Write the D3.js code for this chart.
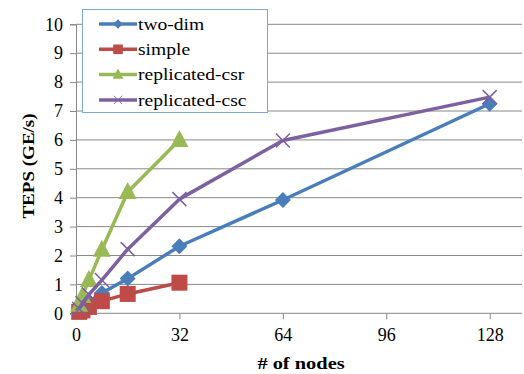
<!DOCTYPE html>
<html>
<head>
<meta charset="utf-8">
<script src="https://cdn.jsdelivr.net/npm/d3@7"></script>
<style>
  body { margin: 0; background: #fff; }
</style>
</head>
<body>
<div id="chart"></div>
<script>
// data
var nodes = [1, 2, 4, 8, 16, 32, 64, 128];
var twoDim = [0.1, 0.2, 0.4, 0.7, 1.2, 2.32, 3.92, 7.25];
var simple = [0.05, 0.1, 0.22, 0.42, 0.67, 1.06];
var replicatedCsr = [0.3, 0.6, 1.15, 2.2, 4.2, 6.0];
var replicatedCsc = [0.15, 0.35, 0.65, 1.15, 2.22, 3.95, 5.98, 7.48];
var xTicks = [0, 32, 64, 96, 128];
var yTicks = [0, 1, 2, 3, 4, 5, 6, 7, 8, 9, 10];

var series = [
  { name: 'two-dim', values: twoDim, color: '#4a7ebb', marker: 'diamond' },
  { name: 'simple', values: simple, color: '#be4b48', marker: 'square' },
  { name: 'replicated-csr', values: replicatedCsr, color: '#98b954', marker: 'triangle' },
  { name: 'replicated-csc', values: replicatedCsc, color: '#7d60a0', marker: 'cross' }
];

var W = 524, H = 374;
var plotLeft = 76, plotRight = 522, plotTop = 24.3, plotBottom = 313.3;
var serif = '"Liberation Serif"';

var svg = d3.select('#chart').append('svg')
  .attr('width', W)
  .attr('height', H);

var x = d3.scaleLinear().domain([0, 128]).range([plotLeft, 489.7]);
var y = d3.scaleLinear().domain([0, 10]).range([plotBottom, plotTop]);

// gridlines
svg.append('g')
  .selectAll('line')
  .data(yTicks.slice(1))
  .enter().append('line')
  .attr('x1', plotLeft).attr('x2', plotRight)
  .attr('y1', d => y(d)).attr('y2', d => y(d))
  .attr('stroke', '#888').attr('stroke-width', 1);

// y axis
var yAxis = svg.append('g')
  .attr('transform', 'translate(' + plotLeft + ',0)')
  .call(d3.axisLeft(y).tickValues(yTicks).tickSize(6).tickPadding(7));
yAxis.select('.domain').attr('stroke', '#888');
yAxis.selectAll('.tick line').attr('stroke', '#888');
yAxis.selectAll('.tick text')
  .style('font-family', serif).style('font-size', '18px').attr('fill', '#000');

// x axis
var xAxis = svg.append('g')
  .attr('transform', 'translate(0,' + plotBottom + ')')
  .call(d3.axisBottom(x).tickValues(xTicks).tickSize(6).tickPadding(9));
xAxis.select('.domain').attr('d', 'M' + plotLeft + ',0H' + plotRight).attr('stroke', '#888');
xAxis.selectAll('.tick line').attr('stroke', '#888');
xAxis.selectAll('.tick text')
  .style('font-family', serif).style('font-size', '18px').attr('fill', '#000');

// axis titles
svg.append('text')
  .attr('transform', 'translate(301,369) scale(1.2,1)')
  .attr('text-anchor', 'middle')
  .style('font-family', serif).style('font-size', '17px').style('font-weight', 'bold')
  .text('# of nodes');

svg.append('text')
  .attr('transform', 'translate(34,166) rotate(-90) scale(1.12,1)')
  .attr('text-anchor', 'middle')
  .style('font-family', serif).style('font-size', '17px').style('font-weight', 'bold')
  .text('TEPS (GE/s)');

function drawMarker(g, type, color) {
  if (type === 'diamond') {
    g.append('path').attr('d', 'M0,-8L8,0L0,8L-8,0Z').attr('fill', color);
  } else if (type === 'square') {
    g.append('rect').attr('x', -8).attr('y', -8).attr('width', 16).attr('height', 16)
      .attr('fill', color);
  } else if (type === 'triangle') {
    g.append('path').attr('d', 'M0,-10L9,7L-9,7Z').attr('fill', color);
  } else {
    g.append('path').attr('d', 'M-7,-7L7,7M-7,7L7,-7')
      .attr('stroke', color).attr('stroke-width', 1.5).attr('fill', 'none');
  }
}

var line = d3.line()
  .x((d, i) => x(nodes[i]))
  .y(d => y(d));

var seriesG = svg.selectAll('.series')
  .data(series)
  .enter().append('g').attr('class', 'series');

seriesG.append('path')
  .attr('d', d => line(d.values))
  .attr('fill', 'none')
  .attr('stroke', d => d.color)
  .attr('stroke-width', 3.5)
  .attr('stroke-linejoin', 'round');

seriesG.each(function(s) {
  var g = d3.select(this);
  s.values.forEach(function(v, i) {
    var m = g.append('g').attr('transform', 'translate(' + x(nodes[i]) + ',' + y(v) + ')');
    drawMarker(m, s.marker, s.color);
  });
});

// legend
var legend = svg.append('g');
legend.append('rect')
  .attr('x', 82.5).attr('y', 9.5).attr('width', 185).attr('height', 103)
  .attr('fill', '#fff').attr('stroke', '#7ea6d8').attr('stroke-width', 1);

series.forEach(function(s, i) {
  var ly = 24 + i * 25.3;
  var item = legend.append('g').attr('transform', 'translate(0,' + ly + ')');
  item.append('line')
    .attr('x1', 99).attr('x2', 137).attr('y1', 0).attr('y2', 0)
    .attr('stroke', s.color).attr('stroke-width', 3.5);
  var m = item.append('g').attr('transform', 'translate(118,0) scale(0.6)');
  drawMarker(m, s.marker, s.color);
  item.append('text')
    .attr('transform', 'translate(138,0) scale(1.15,1)')
    .attr('dy', '0.33em')
    .style('font-family', serif).style('font-size', '17px')
    .text(s.name);
});
</script>
</body>
</html>
